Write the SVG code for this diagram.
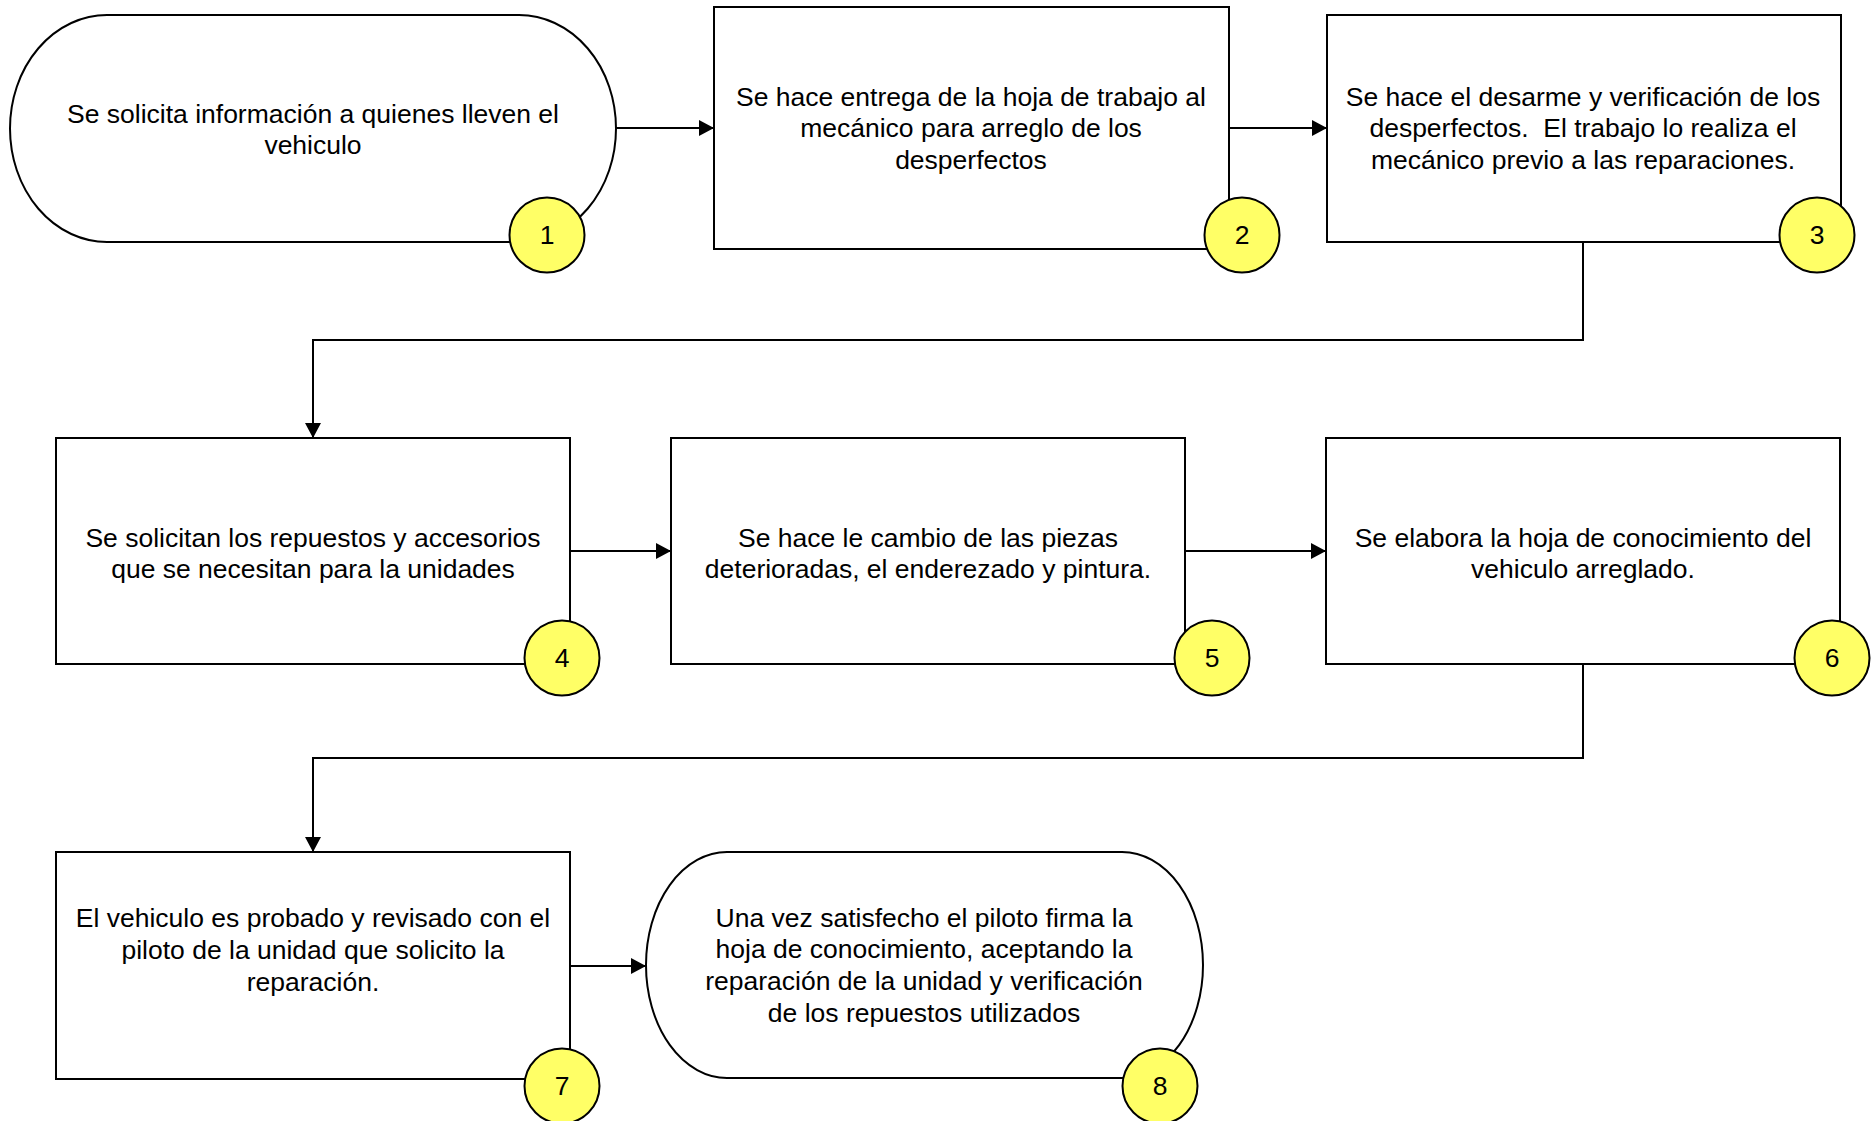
<svg xmlns="http://www.w3.org/2000/svg" width="1875" height="1121" viewBox="0 0 1875 1121">
<style>
.shape{fill:#ffffff;stroke:#000000;stroke-width:2}
.num{fill:#ffff66;stroke:#000000;stroke-width:2}
.t{font-family:"Liberation Sans",Arial,Helvetica,sans-serif;font-size:26.5px;fill:#000000;text-anchor:middle}
.c{fill:none;stroke:#000000;stroke-width:2}
</style>
<defs>
<marker id="arr" markerWidth="15" markerHeight="16" refX="14" refY="8" orient="auto" markerUnits="userSpaceOnUse">
<path d="M0,0 L15,8 L0,16 Z" fill="#000000"/>
</marker>
</defs>
<rect width="1875" height="1121" fill="#ffffff"/>
<g id="connectors">
<line class="c" x1="616" y1="128" x2="713" y2="128" marker-end="url(#arr)"/>
<line class="c" x1="1229" y1="128" x2="1326" y2="128" marker-end="url(#arr)"/>
<polyline class="c" points="1583,242 1583,340 313,340 313,437" marker-end="url(#arr)"/>
<line class="c" x1="570" y1="551" x2="670" y2="551" marker-end="url(#arr)"/>
<line class="c" x1="1185" y1="551" x2="1325" y2="551" marker-end="url(#arr)"/>
<polyline class="c" points="1583,665 1583,758 313,758 313,851" marker-end="url(#arr)"/>
<line class="c" x1="570" y1="966" x2="645" y2="966" marker-end="url(#arr)"/>
</g>
<g id="node1">
<rect class="shape" x="10" y="15" width="606" height="227" rx="97" ry="113.5"/>
<text class="t" x="313" y="123">Se solicita información a quienes lleven el</text>
<text class="t" x="313" y="154">vehiculo</text>
<circle class="num" cx="547" cy="235" r="37.5"/>
<text class="t" x="547" y="244">1</text>
</g>
<g id="node2">
<rect class="shape" x="714" y="7" width="515" height="242"/>
<text class="t" x="971" y="106">Se hace entrega de la hoja de trabajo al</text>
<text class="t" x="971" y="137">mecánico para arreglo de los</text>
<text class="t" x="971" y="169">desperfectos</text>
<circle class="num" cx="1242" cy="235" r="37.5"/>
<text class="t" x="1242" y="244">2</text>
</g>
<g id="node3">
<rect class="shape" x="1327" y="15" width="514" height="227"/>
<text class="t" x="1583" y="106">Se hace el desarme y verificación de los</text>
<text class="t" x="1583" y="137">desperfectos.&#160; El trabajo lo realiza el</text>
<text class="t" x="1583" y="169">mecánico previo a las reparaciones.</text>
<circle class="num" cx="1817" cy="235" r="37.5"/>
<text class="t" x="1817" y="244">3</text>
</g>
<g id="node4">
<rect class="shape" x="56" y="438" width="514" height="226"/>
<text class="t" x="313" y="547">Se solicitan los repuestos y accesorios</text>
<text class="t" x="313" y="578">que se necesitan para la unidades</text>
<circle class="num" cx="562" cy="658" r="37.5"/>
<text class="t" x="562" y="667">4</text>
</g>
<g id="node5">
<rect class="shape" x="671" y="438" width="514" height="226"/>
<text class="t" x="928" y="547">Se hace le cambio de las piezas</text>
<text class="t" x="928" y="578">deterioradas, el enderezado y pintura.</text>
<circle class="num" cx="1212" cy="658" r="37.5"/>
<text class="t" x="1212" y="667">5</text>
</g>
<g id="node6">
<rect class="shape" x="1326" y="438" width="514" height="226"/>
<text class="t" x="1583" y="547">Se elabora la hoja de conocimiento del</text>
<text class="t" x="1583" y="578">vehiculo arreglado.</text>
<circle class="num" cx="1832" cy="658" r="37.5"/>
<text class="t" x="1832" y="667">6</text>
</g>
<g id="node7">
<rect class="shape" x="56" y="852" width="514" height="227"/>
<text class="t" x="313" y="927">El vehiculo es probado y revisado con el</text>
<text class="t" x="313" y="959">piloto de la unidad que solicito la</text>
<text class="t" x="313" y="991">reparación.</text>
<circle class="num" cx="562" cy="1086" r="37.5"/>
<text class="t" x="562" y="1095">7</text>
</g>
<g id="node8">
<rect class="shape" x="646" y="852" width="557" height="226" rx="81" ry="113"/>
<text class="t" x="924" y="927">Una vez satisfecho el piloto firma la</text>
<text class="t" x="924" y="958">hoja de conocimiento, aceptando la</text>
<text class="t" x="924" y="990">reparación de la unidad y verificación</text>
<text class="t" x="924" y="1022">de los repuestos utilizados</text>
<circle class="num" cx="1160" cy="1086" r="37.5"/>
<text class="t" x="1160" y="1095">8</text>
</g>
</svg>
